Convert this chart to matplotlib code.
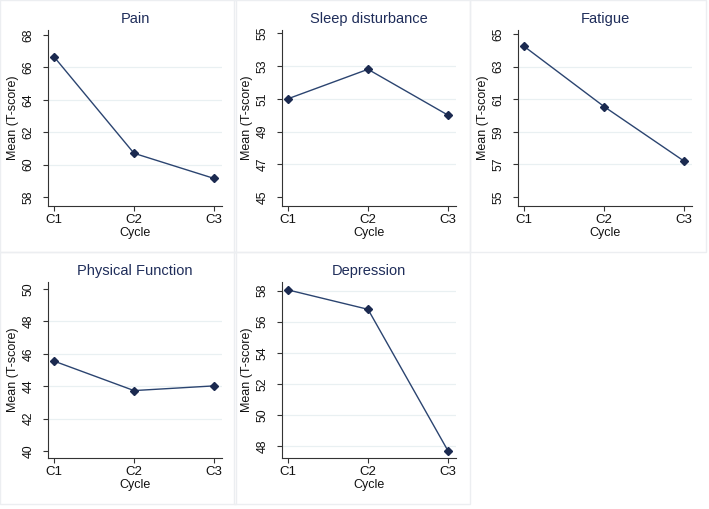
import matplotlib
matplotlib.use("Agg")
import matplotlib.pyplot as plt
from matplotlib.patches import Rectangle

plt.rcParams['font.family'] = ['Liberation Sans', 'DejaVu Sans']

cycles = ["C1", "C2", "C3"]
titles = ["Pain", "Sleep disturbance", "Fatigue", "Physical Function", "Depression"]
pain = [66.65, 60.7, 59.15]
sleep = [51.0, 52.8, 50.0]
fatigue = [64.25, 60.55, 57.2]
physical = [45.55, 43.73, 44.02]
depression = [58.05, 56.8, 47.68]
series = [pain, sleep, fatigue, physical, depression]

y_ticks = [
    [58, 60, 62, 64, 66, 68],
    [45, 47, 49, 51, 53, 55],
    [55, 57, 59, 61, 63, 65],
    [40, 42, 44, 46, 48, 50],
    [48, 50, 52, 54, 56, 58],
]
y_limits = [(57.45, 68.3), (44.45, 55.2), (54.44, 65.25), (39.57, 50.43), (47.22, 58.56)]
grid_ticks = [
    [60, 62, 64, 66],
    [47, 49, 51, 53],
    [57, 59, 61, 63],
    [42, 44, 46, 48],
    [48, 50, 52, 54, 56, 58],
]

W, H = 709, 509
fig = plt.figure(figsize=(W / 100, H / 100), dpi=100)
fig.patch.set_facecolor("white")

cell_x = [0, 234, 470]
cell_y = [0, 252]
cell_w, cell_h = 236, 252

line_color = "#2b4470"
marker_color = "#1b2a50"
title_color = "#1f2d5a"
grid_color = "#e9f0f2"
border_color = "#eceef1"

x = [1, 2, 3]
for i, (title, vals) in enumerate(zip(titles, series)):
    r, c = divmod(i, 3)
    x0, y0 = cell_x[c], cell_y[r]
    fig.patches.append(Rectangle((x0 / W, 1 - (y0 + cell_h) / H), cell_w / W, cell_h / H,
                                 transform=fig.transFigure, fill=False,
                                 edgecolor=border_color, lw=1.0, zorder=0))
    ax = fig.add_axes([(x0 + 48) / W, 1 - (y0 + 206) / H, 174 / W, 176 / H])
    ax.set_facecolor("white")
    for g in grid_ticks[i]:
        ax.axhline(g, color=grid_color, lw=0.9, zorder=0)
    ax.plot(x, vals, color=line_color, lw=1.0, marker="D", markersize=4.2,
            markerfacecolor=marker_color, markeredgecolor=marker_color, zorder=3)
    ax.set_xlim(0.925, 3.1)
    ax.set_ylim(*y_limits[i])
    ax.set_xticks(x)
    ax.set_xticklabels(cycles)
    ax.set_yticks(y_ticks[i])
    ax.set_yticklabels([str(t) for t in y_ticks[i]], rotation=90, va="center")
    for s in ["top", "right"]:
        ax.spines[s].set_visible(False)
    for s in ["left", "bottom"]:
        ax.spines[s].set_color("#333333")
        ax.spines[s].set_linewidth(0.8)
    ax.tick_params(axis="both", direction="out", length=3.5, width=0.8,
                   color="#333333", labelcolor="#111111")
    ax.tick_params(axis="y", pad=6, labelsize=8.8)
    ax.tick_params(axis="x", pad=2.5, labelsize=9.5)
    ax.set_title(title, fontsize=10.5, color=title_color, pad=5)
    ax.set_xlabel("Cycle", fontsize=9, color="#111111", labelpad=0.5)
    ax.set_ylabel("Mean (T-score)", fontsize=9, color="#111111", labelpad=2.5)

fig.savefig("out.png", dpi=100, facecolor="white")
